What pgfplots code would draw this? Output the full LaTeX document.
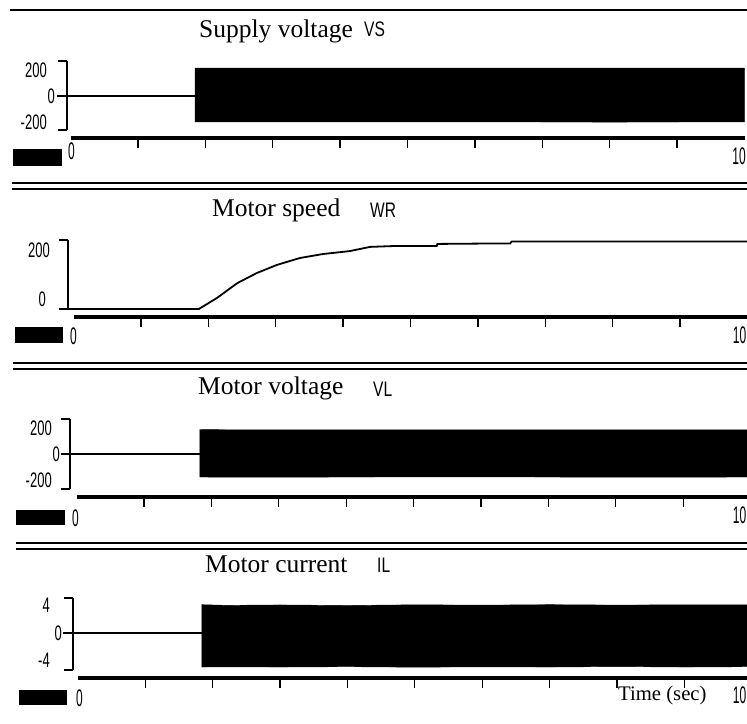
\documentclass[border=0pt]{standalone}
\usepackage{fontspec}
\setmainfont{Liberation Serif}
\setsansfont{Liberation Sans}
\usepackage{graphicx}
\usepackage{pgfplots}
\pgfplotsset{compat=1.18}
\newcommand{\nar}[1]{\scalebox{0.62}[1]{#1}}
\newcommand{\tnar}[1]{\scalebox{0.5}[1]{#1}}
\newcommand{\lab}[1]{\scalebox{0.74}[1]{#1}}
\pgfplotsset{
  sig/.style={
    scale only axis, anchor=south west, clip=false,
    xmax=10,
    axis x line=none, axis y line=left, axis line style={-},
    y axis line style={line width=1.5pt, black},
    xtick=\empty,
    major tick length=0pt,
    yticklabel style={font=\sffamily\fontsize{21}{21}\selectfont, anchor=east, inner sep=0pt},
  },
  tax/.style={
    scale only axis, anchor=north west, width=674pt, height=10pt,
    xmin=0, xmax=10, ymin=0, ymax=1,
    axis x line=top, axis y line=none, axis line style={-},
    x axis line style={line width=3.5pt, black},
    xtick={1,...,9}, xticklabels={}, ytick=\empty,
    tick align=inside, major tick length=10pt,
    tick style={line width=1.3pt, black},
  },
}
\tikzset{
  ttl/.style={anchor=base west, inner sep=0pt, font=\fontsize{25.5}{26}\selectfont},
  sym/.style={anchor=base west, inner sep=0pt, font=\sffamily\fontsize{21}{21}\selectfont},
  tl/.style={inner sep=0pt, font=\sffamily\fontsize{24}{24}\selectfont},
}
\begin{document}
\begin{tikzpicture}[x=1pt,y=1pt]
\path[use as bounding box] (0,0) rectangle (747,723);
\clip (0,0) rectangle (747,723);

% ---------- separators ----------
\draw[line width=2pt] (10,713) -- (747,713);
\draw[line width=2pt] (12,540) -- (747,540);
\draw[line width=1.6pt] (12,534) -- (747,534);
\draw[line width=2pt] (13,360) -- (747,360);
\draw[line width=1.6pt] (13,354) -- (747,354);
\draw[line width=2pt] (16,180) -- (747,180);
\draw[line width=1.6pt] (16,174) -- (747,174);

% ================= Panel 1: Supply voltage =================
\node[ttl] at (199,685) {Supply voltage};
\node[sym] at (364,686) {\lab{VS}};
\begin{axis}[sig, at={(67pt,593pt)}, width=677.5pt, height=69pt,
  xmin=-0.052, ymin=-262, ymax=269,
  ytick={-200,0,200},
  yticklabels={{\nar{-200}\kern8pt},{\nar{0}},{\nar{200}\kern8pt}},
  yticklabel style={xshift=-12pt}]
  \addplot[black, line width=1.2pt] coordinates {(-0.052,0) (1.85,0)};
  \addplot[black, fill=black, line width=0.4pt] coordinates {
    (1.85,-200) (1.85,215) (3,214) (5,215) (7,214) (9,215) (10,215)
    (10,-200) (8,-201) (6,-200) (4,-199) (1.85,-200)};
  \draw[line width=1.5pt] (rel axis cs:0,1) -- ++(-9pt,0pt);
  \draw[line width=1.5pt] (rel axis cs:0,0) -- ++(-9pt,0pt);
  \draw[line width=1.3pt] (axis cs:-0.052,0) -- ++(-10pt,0pt);
\end{axis}
\begin{axis}[tax, at={(70.5pt,585pt)}]
\end{axis}
\node[tl, anchor=north west] at (68,580) {\tnar{0}};
\node[tl, anchor=north east] at (746,575) {\tnar{10}};
\fill (13,557) rectangle (62,574);

% ================= Panel 2: Motor speed =================
\node[ttl] at (212,506) {Motor speed};
\node[sym] at (370,505) {\lab{WR}};
\begin{axis}[sig, at={(68pt,414pt)}, width=679.5pt, height=69pt,
  xmin=-0.0816, ymin=0, ymax=280,
  ytick={0,200},
  yticklabels={{\nar{0}\kern4pt},{\nar{200}}},
  yticklabel style={xshift=-18pt, yshift=9.5pt}]
  \addplot[black, line width=1.8pt] coordinates {
    (-0.0816,0) (1.86,0) (2.13,45) (2.43,105) (2.72,146) (3.02,179)
    (3.36,207) (3.70,223) (4.10,235) (4.40,252) (4.80,256) (5.39,256)
    (5.40,264) (6.28,266) (6.48,266) (6.50,274) (8,274) (10,274)};
  \draw[line width=1.5pt] (rel axis cs:0,1) -- ++(-9pt,0pt);
  \draw[line width=1.5pt] (rel axis cs:0,0) -- ++(-9pt,0pt);
\end{axis}
\begin{axis}[tax, at={(73.5pt,406pt)}]
\end{axis}
\node[tl, anchor=north west] at (70,395) {\tnar{0}};
\node[tl, anchor=north east] at (746.5,396) {\tnar{10}};
\fill (15,380) rectangle (63,396);

% ================= Panel 3: Motor voltage =================
\node[ttl] at (198,328) {Motor voltage};
\node[sym] at (373,326) {\lab{VL}};
\begin{axis}[sig, at={(70pt,234pt)}, width=680.6pt, height=70pt,
  xmin=-0.098, ymin=-269, ymax=269,
  ytick={-200,0,200},
  yticklabels={{\nar{-200}\kern8pt},{\nar{0}},{\nar{200}\kern8pt}},
  yticklabel style={xshift=-10pt}]
  \addplot[black, line width=1.2pt] coordinates {(-0.098,0) (1.83,0)};
  \addplot[black, fill=black, line width=0.4pt] coordinates {
    (1.83,-177) (1.83,188) (2.5,185) (4,186) (6,185) (8,185) (10,185)
    (10,-177) (8,-178) (6,-176) (4,-177) (2.5,-178) (1.83,-177)};
  \draw[line width=1.5pt] (rel axis cs:0,1) -- ++(-9pt,0pt);
  \draw[line width=1.5pt] (rel axis cs:0,0) -- ++(-9pt,0pt);
  \draw[line width=1.3pt] (axis cs:-0.098,0) -- ++(-9pt,0pt);
\end{axis}
\begin{axis}[tax, at={(76.6pt,226pt)}]
\end{axis}
\node[tl, anchor=north west] at (72,213) {\tnar{0}};
\node[tl, anchor=north east] at (746.5,216) {\tnar{10}};
\fill (16,198) rectangle (65,213);

% ================= Panel 4: Motor current =================
\node[ttl] at (205,150) {Motor current};
\node[sym] at (377,150) {\lab{IL}};
\begin{axis}[sig, at={(73pt,53pt)}, width=678.8pt, height=72pt,
  xmin=-0.071, ymin=-5.38, ymax=5.09,
  ytick={-4,0,4},
  yticklabels={{\nar{-4}\kern12pt},{\nar{0}},{\nar{4}\kern12pt}},
  yticklabel style={xshift=-11pt}]
  \addplot[black, line width=1.2pt] coordinates {(-0.071,0) (1.84,0)};
  \addplot[black, fill=black, line width=0.4pt] coordinates {
    (1.84,-4.95) (1.84,4.12) (2.2,4.02) (3,4.08) (4,4.00) (5,4.10) (6,4.05)
    (7,4.12) (8,4.06) (9,4.10) (10,4.08)
    (10,-4.90) (9,-4.95) (8,-4.88) (7,-4.95) (6,-4.92) (5,-4.97) (4,-4.90)
    (3,-4.95) (2.2,-4.92) (1.84,-4.95)};
  \draw[line width=1.5pt] (rel axis cs:0,1) -- ++(-9pt,0pt);
  \draw[line width=1.5pt] (rel axis cs:0,0) -- ++(-9pt,0pt);
  \draw[line width=1.3pt] (axis cs:-0.071,0) -- ++(-10pt,0pt);
\end{axis}
\begin{axis}[tax, at={(77.8pt,45pt)}]
\end{axis}
\node[tl, anchor=north west] at (76,33) {\tnar{0}};
\node[tl, anchor=north east] at (746.5,36) {\tnar{10}};
\fill (19,18) rectangle (67,33);
\node[anchor=base west, inner sep=0pt, font=\fontsize{20.7}{21}\selectfont] at (618,23) {Time (sec)};
\end{tikzpicture}
\end{document}
